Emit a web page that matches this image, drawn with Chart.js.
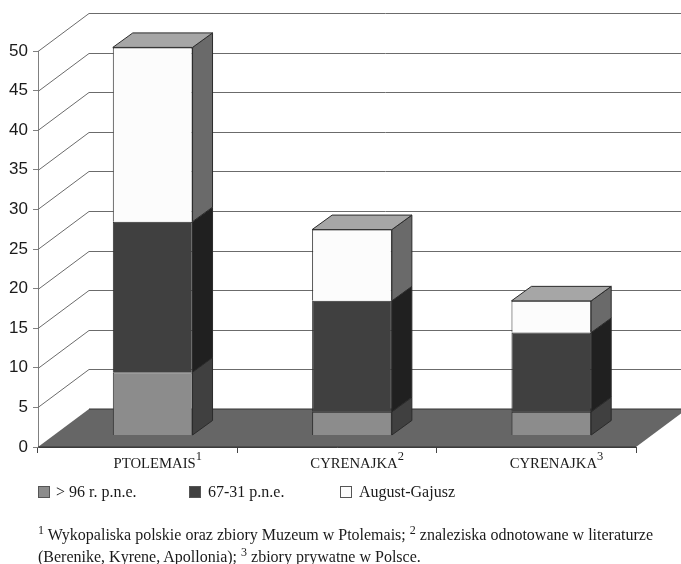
<!DOCTYPE html>
<html>
<head>
<meta charset="utf-8">
<script src="https://cdn.jsdelivr.net/npm/chart.js@4"></script>
<style>
body { margin: 0; background: #fff; }
#wrap { position: relative; width: 681px; height: 564px; overflow: hidden; font-family: "Liberation Serif", serif; color: #1a1a1a; filter: blur(0.35px); }
canvas { position: absolute; left: 0; top: 0; }
.swatch { position: absolute; top: 486px; width: 10px; height: 10px; border: 1px solid #555; box-sizing: content-box; }
.legend_text { position: absolute; top: 483px; font-size: 16px; white-space: nowrap; }
#note { position: absolute; left: 38px; top: 524px; font-size: 16px; line-height: 21.5px; white-space: nowrap; }
sup { font-size: 12px; line-height: 0; vertical-align: 6px; }
</style>
</head>
<body>
<div id="wrap">
<canvas id="chart" width="681" height="564"></canvas>
<div id="note"><sup>1</sup> Wykopaliska polskie oraz zbiory Muzeum w Ptolemais; <sup>2</sup> znaleziska odnotowane w literaturze<br>(Berenike, Kyrene, Apollonia); <sup>3</sup> zbiory prywatne w Polsce.</div>
</div>
<script>
const categories = ["PTOLEMAIS", "CYRENAJKA", "CYRENAJKA"];
const category_marks = ["1", "2", "3"];
const series_names = ["> 96 r. p.n.e.", "67-31 p.n.e.", "August-Gajusz"];
const early_values = [8, 3, 3];
const middle_values = [19, 14, 10];
const late_values = [22, 9, 4];
const front_colors = ["#8c8c8c", "#404040", "#fcfcfc"];
const side_colors = ["#404040", "#202020", "#6a6a6a"];
const top_color = "#a6a6a6";
const legend_swatch_x = [38, 189, 340];
const legend_text_x = [56, 208, 359];

// bars stand a little way into the floor, and have their own depth
const wall_dx = 51, wall_dy = 38;
const bar_dx = 15, bar_dy = 11.5;
const side_dx = 20, side_dy = 14.5;
const label_offset = 17;
const label_font = '14.7px "Liberation Serif"';
const mark_font = '12.5px "Liberation Serif"';

function poly(ctx, points, fill, stroke) {
    ctx.beginPath();
    ctx.moveTo(points[0][0], points[0][1]);
    for (let i = 1; i < points.length; i++) {
        ctx.lineTo(points[i][0], points[i][1]);
    }
    ctx.closePath();
    ctx.fillStyle = fill;
    ctx.fill();
    if (stroke) {
        ctx.strokeStyle = stroke;
        ctx.lineWidth = 1;
        ctx.stroke();
    }
}

const box3d = {
    id: "box3d",
    beforeDatasetsDraw(chart) {
        const ctx = chart.ctx;
        const y_scale = chart.scales.y;
        const left = chart.chartArea.left;
        const right = chart.chartArea.right;
        const floor_y = y_scale.getPixelForValue(0);

        ctx.save();
        ctx.strokeStyle = "#6b6b6b";
        ctx.lineWidth = 1;
        for (const tick of y_scale.ticks) {
            if (tick.value === 0) continue;
            const y = Math.round(y_scale.getPixelForValue(tick.value)) + 0.5;
            ctx.beginPath();
            ctx.moveTo(left, y);
            ctx.lineTo(left + wall_dx, y - wall_dy);
            ctx.lineTo(right + wall_dx, y - wall_dy);
            ctx.stroke();
        }
        poly(ctx, [
            [left, floor_y],
            [left + wall_dx, floor_y - wall_dy],
            [right + wall_dx, floor_y - wall_dy],
            [right, floor_y]
        ], "#666666");
        ctx.strokeStyle = "#333333";
        ctx.beginPath();
        ctx.moveTo(left, floor_y);
        ctx.lineTo(right, floor_y);
        ctx.moveTo(left + wall_dx, floor_y - wall_dy);
        ctx.lineTo(right + wall_dx, floor_y - wall_dy);
        ctx.stroke();
        ctx.restore();

        ctx.save();
        ctx.translate(bar_dx, -bar_dy);
    },
    afterDatasetsDraw(chart) {
        const ctx = chart.ctx;
        const last = chart.data.datasets.length - 1;
        chart.data.datasets.forEach(function (ds, ds_id) {
            chart.getDatasetMeta(ds_id).data.forEach(function (bar) {
                const p = bar.getProps(["x", "y", "base", "width"], true);
                const x0 = p.x - p.width / 2;
                const x1 = p.x + p.width / 2;
                poly(ctx, [
                    [x1, p.base],
                    [x1 + side_dx, p.base - side_dy],
                    [x1 + side_dx, p.y - side_dy],
                    [x1, p.y]
                ], side_colors[ds_id], "#2b2b2b");
                if (ds_id === last) {
                    poly(ctx, [
                        [x0, p.y],
                        [x0 + side_dx, p.y - side_dy],
                        [x1 + side_dx, p.y - side_dy],
                        [x1, p.y]
                    ], top_color, "#2b2b2b");
                }
            });
        });
        ctx.restore();

        // small raised number after each category label
        const x_scale = chart.scales.x;
        const label_y = x_scale.top + 15;
        ctx.save();
        ctx.fillStyle = "#1a1a1a";
        ctx.textBaseline = "middle";
        ctx.textAlign = "left";
        categories.forEach(function (name, i) {
            ctx.font = label_font;
            const half = ctx.measureText(name).width / 2;
            ctx.font = mark_font;
            ctx.fillText(category_marks[i], x_scale.getPixelForTick(i) + label_offset + half, label_y - 5);
        });
        ctx.restore();
    }
};

function draw_legend() {
    const wrap = document.getElementById("wrap");
    series_names.forEach(function (name, i) {
        const box = document.createElement("div");
        box.className = "swatch";
        box.style.left = legend_swatch_x[i] + "px";
        box.style.background = front_colors[i];
        wrap.appendChild(box);

        const text = document.createElement("div");
        text.className = "legend_text";
        text.style.left = legend_text_x[i] + "px";
        text.innerText = name;
        wrap.appendChild(text);
    });
}

function bar_set(i, values) {
    return {
        label: series_names[i],
        data: values,
        backgroundColor: front_colors[i],
        borderColor: "#2b2b2b",
        borderWidth: 1,
        barPercentage: 0.4,
        categoryPercentage: 1,
        clip: false
    };
}

new Chart(document.getElementById("chart").getContext("2d"), {
    type: "bar",
    data: {
        labels: categories,
        datasets: [
            bar_set(0, early_values),
            bar_set(1, middle_values),
            bar_set(2, late_values)
        ]
    },
    options: {
        responsive: false,
        animation: false,
        layout: { padding: { left: 0, top: 51, right: 45, bottom: 47 } },
        plugins: { legend: { display: false }, tooltip: { enabled: false } },
        scales: {
            x: {
                stacked: true,
                afterFit: function (scale) { scale.height = 70; },
                border: { color: "#444444" },
                grid: { drawOnChartArea: false, color: "#444444", tickLength: 6 },
                ticks: {
                    color: "#1a1a1a",
                    labelOffset: label_offset,
                    maxRotation: 0,
                    padding: 2,
                    font: { family: "Liberation Serif", size: 14.7 }
                }
            },
            y: {
                stacked: true,
                min: 0,
                max: 50,
                afterFit: function (scale) { scale.width = 38; },
                border: { color: "#808080" },
                grid: { drawOnChartArea: false, color: "#808080", tickLength: 5 },
                ticks: {
                    stepSize: 5,
                    color: "#1a1a1a",
                    padding: 5,
                    font: { family: "Liberation Sans", size: 17 }
                }
            }
        }
    },
    plugins: [box3d]
});
draw_legend();
</script>
</body>
</html>
